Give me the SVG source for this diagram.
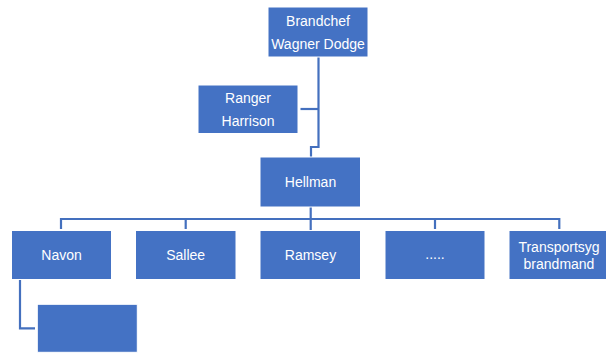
<svg xmlns="http://www.w3.org/2000/svg" width="606" height="353" viewBox="0 0 606 353">
<style>
.box{fill:#4472C4;stroke:#ffffff;stroke-width:1}
.t{fill:#ffffff;font-family:"Liberation Sans",Arial,sans-serif;font-size:14px;text-anchor:middle}
.c{fill:none;stroke:#4470BE;stroke-width:2.2}
</style>
<rect width="606" height="353" fill="#ffffff"/>
<g id="connectors">
<path class="c" d="M318.5,57 V147 H311 V157"/>
<path class="c" d="M300.5,109 H318.5"/>
<path class="c" d="M310.7,207 V230"/>
<path class="c" d="M61,229 V219 H559.3 V229"/>
<path class="c" d="M185.7,219 V229"/>
<path class="c" d="M435,219 V229"/>
<path class="c" d="M20,280 V328.3 H35"/>
</g>
<g id="brandchef"><rect class="box" x="268" y="7" width="100" height="50"/><text class="t" x="318" y="25.5">Brandchef</text><text class="t" x="318" y="48.5">Wagner Dodge</text></g>
<g id="ranger"><rect class="box" x="198" y="85" width="100" height="48.5"/><text class="t" x="248" y="102.5">Ranger</text><text class="t" x="248" y="126">Harrison</text></g>
<g id="hellman"><rect class="box" x="260" y="157" width="100.5" height="50"/><text class="t" x="310.5" y="187">Hellman</text></g>
<g id="navon"><rect class="box" x="11.5" y="230.5" width="100" height="49"/><text class="t" x="61.5" y="260">Navon</text></g>
<g id="sallee"><rect class="box" x="135.5" y="230.5" width="100.5" height="49"/><text class="t" x="185.7" y="260">Sallee</text></g>
<g id="ramsey"><rect class="box" x="260" y="230.5" width="100.5" height="49"/><text class="t" x="310.5" y="260">Ramsey</text></g>
<g id="dots"><rect class="box" x="385" y="230.5" width="100" height="49"/><text class="t" x="435" y="259">.....</text></g>
<g id="transport"><rect class="box" x="509" y="230.5" width="100" height="49"/><text class="t" x="559" y="252">Transportsyg</text><text class="t" x="559" y="268.5">brandmand</text></g>
<g id="navon-child"><rect class="box" x="37.3" y="304.3" width="100" height="48"/></g>
</svg>
